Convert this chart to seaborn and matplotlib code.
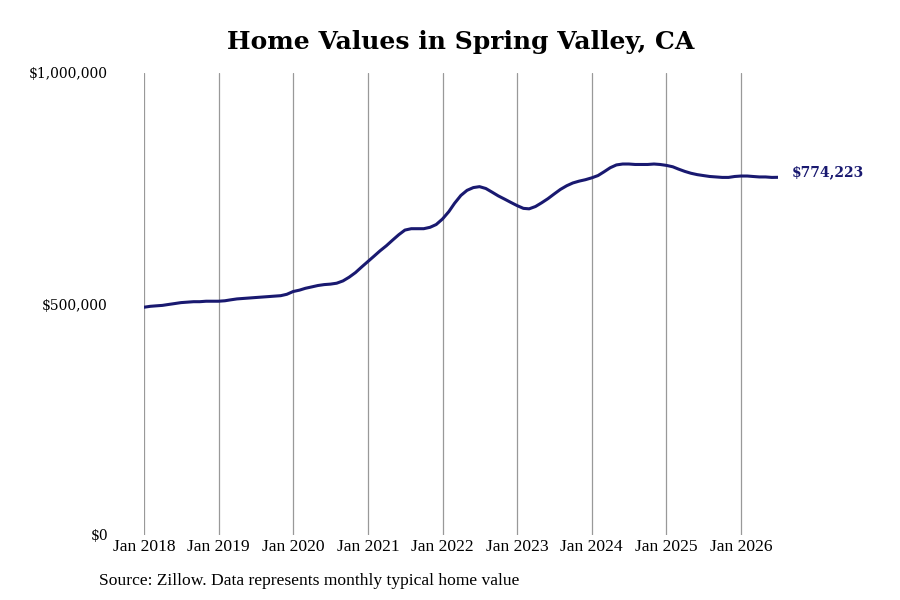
import pandas as pd
import seaborn as sns
import matplotlib.pyplot as plt
import matplotlib.dates as mdates
from matplotlib.ticker import FuncFormatter

# monthly typical home value, Jan 2018 - Jul 2026 (thousands of $)
values_2018 = [493, 495, 496, 497, 499, 501, 503, 504, 505, 505, 506, 506]
values_2019 = [506, 507, 509, 511, 512, 513, 514, 515, 516, 517, 518, 521]
values_2020 = [527, 530, 534, 537, 540, 542, 543, 545, 550, 558, 568, 580]
values_2021 = [592, 604, 615, 626, 638, 650, 660, 663, 663, 663, 666, 672]
values_2022 = [684, 700, 718, 735, 746, 752, 754, 750, 742, 734, 727, 720]
values_2023 = [713, 707, 706, 711, 719, 728, 738, 748, 756, 762, 766, 769]
values_2024 = [773, 778, 786, 795, 801, 803, 803, 802, 802, 802, 803, 802]
values_2025 = [800, 797, 792, 787, 783, 780, 778, 776, 775, 774, 774, 776]
values_2026 = [777, 777, 776, 775, 775, 774, 774.223]

all_values = (values_2018 + values_2019 + values_2020 + values_2021 + values_2022
              + values_2023 + values_2024 + values_2025 + values_2026)
dates = pd.date_range("2018-01-01", periods=len(all_values), freq="MS")
df = pd.DataFrame({"date": dates, "value": [v * 1000 for v in all_values]})

tick_years = list(range(2018, 2027))
last_label = "$774,223"

sns.set_style("white")
plt.rcParams['font.family'] = ['DejaVu Serif']
plt.rcParams['text.color'] = 'black'
plt.rcParams['xtick.color'] = 'black'
plt.rcParams['ytick.color'] = 'black'

line_color = "#191970"

fig = plt.figure(figsize=(9, 6), dpi=100)
ax = fig.add_axes([144 / 900, 65 / 600, 634 / 900, 462 / 600])

sns.lineplot(data=df, x="date", y="value", ax=ax, color=line_color, linewidth=2.2)

ax.set_xlim(df["date"].iloc[0], df["date"].iloc[-1])
ax.set_ylim(0, 1000000)
ax.set_yticks([0, 500000, 1000000])
ax.yaxis.set_major_formatter(FuncFormatter(lambda v, p: f"${v:,.0f}"))
ax.set_xticks([pd.Timestamp(f"{y}-01-01") for y in tick_years])
ax.xaxis.set_major_formatter(mdates.DateFormatter("Jan %Y"))

ax.grid(axis="x", color="#999999", linewidth=0.9)
ax.grid(axis="y", visible=False)
for s in ax.spines.values():
    s.set_visible(False)
ax.tick_params(axis="both", length=0, colors="black")
ax.tick_params(axis="y", pad=26, labelsize=10)
ax.tick_params(axis="x", pad=3)
for lab in ax.get_xticklabels():
    lab.set_fontfamily("Liberation Serif")
    lab.set_fontsize(12.6)
ax.set_xlabel("")
ax.set_ylabel("")

ax.annotate(last_label, xy=(df["date"].iloc[-1], df["value"].iloc[-1]),
            xytext=(10, 4), textcoords="offset points", ha="left", va="center",
            fontsize=10, fontweight="bold", color=line_color)

fig.text(461 / 900, 1 - 42 / 600, "Home Values in Spring Valley, CA",
         ha="center", va="center", fontsize=18, fontweight="bold", color="black")
fig.text(99 / 900, 1 - 581 / 600, "Source: Zillow. Data represents monthly typical home value",
         ha="left", va="center", fontsize=12.6, family="Liberation Serif", color="black")

fig.savefig("out.png", dpi=100)
